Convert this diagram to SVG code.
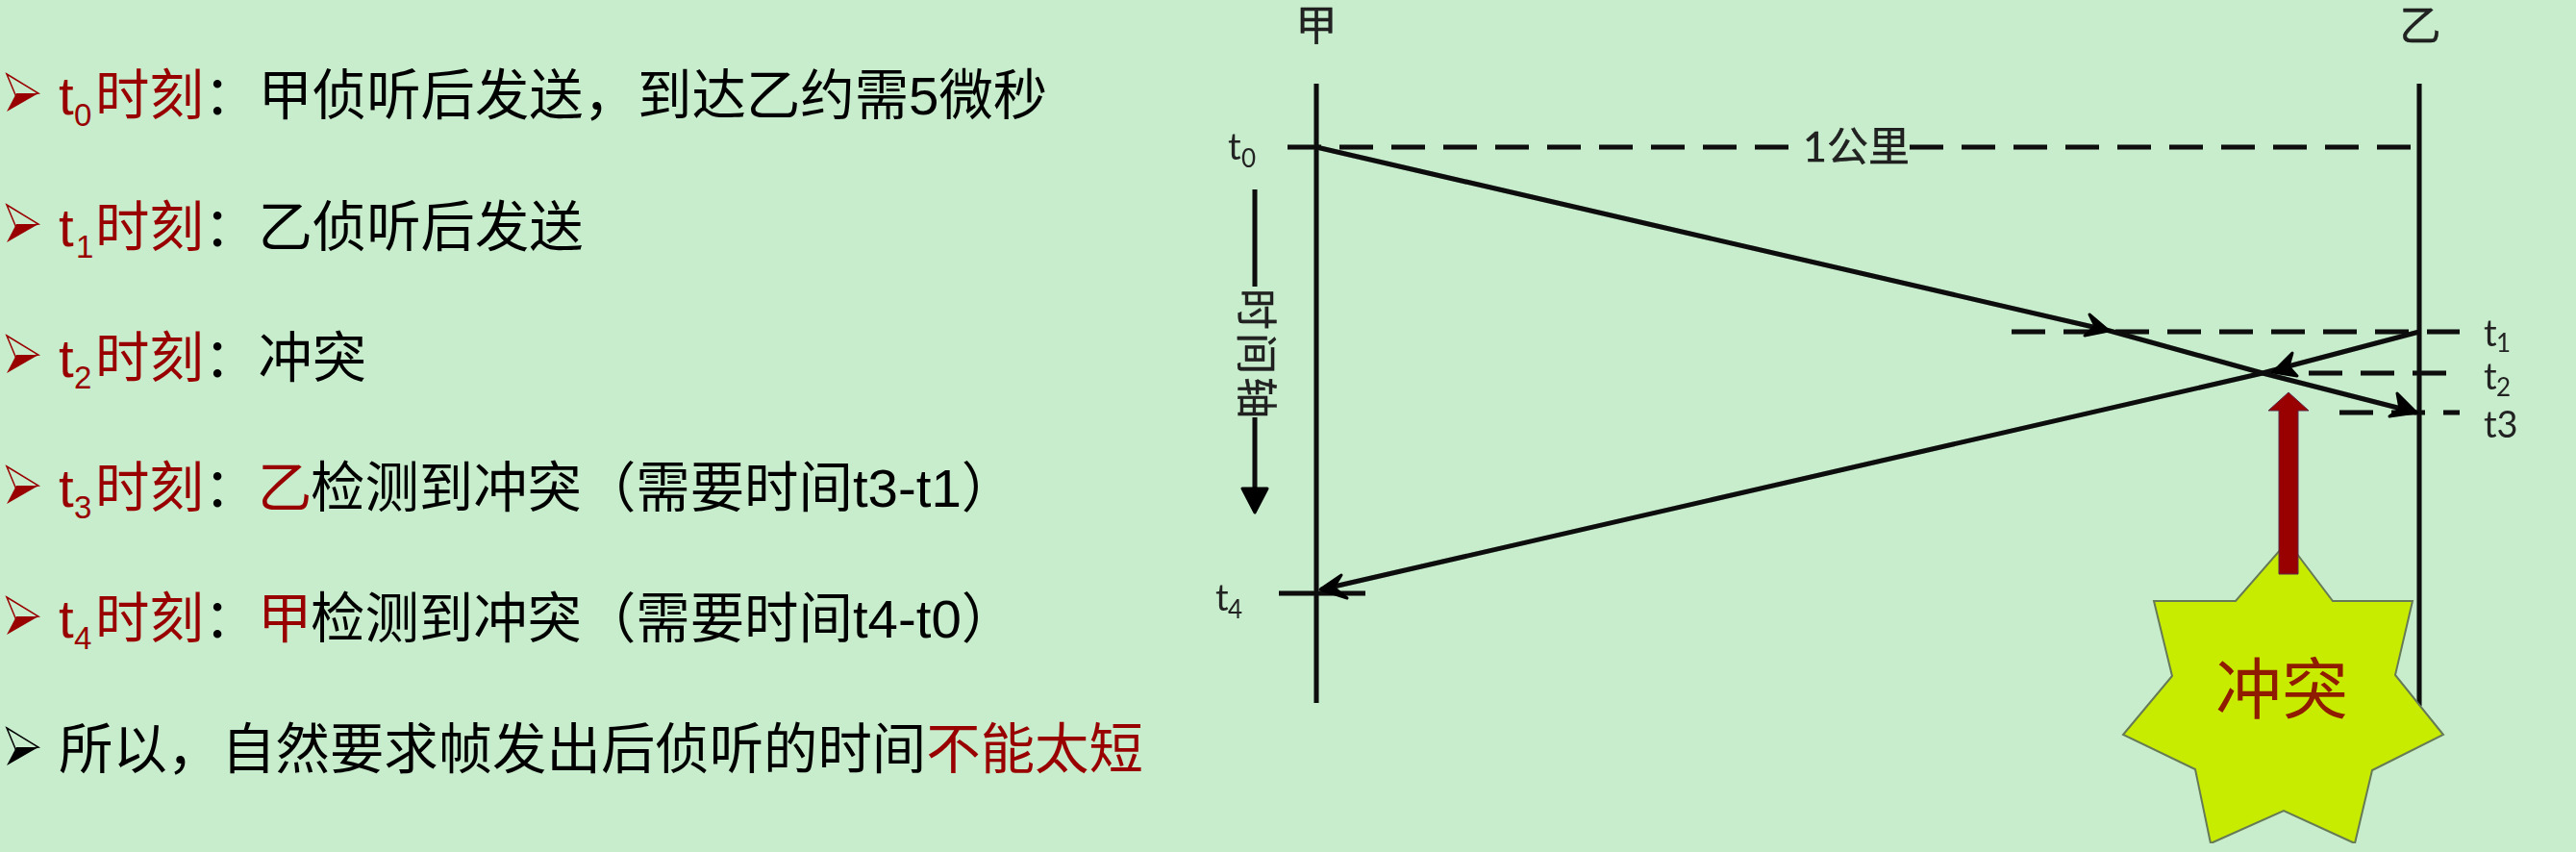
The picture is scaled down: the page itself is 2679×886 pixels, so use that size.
<svg xmlns="http://www.w3.org/2000/svg" width="2679" height="886" viewBox="0 0 2679 886">
<style>
.t{font-family:"Liberation Sans","Noto Sans CJK SC",sans-serif;font-size:56.4px;fill:#000}
.r{fill:#990000}
.s{font-size:33px}
.l{font-family:"Lato","Noto Sans CJK SC",sans-serif;font-size:38px;fill:#222}
.ls{font-size:26px}
.c{font-size:43px;stroke:#111;stroke-width:.4}
.ln{fill:none;stroke:#0a0a0a;stroke-width:5}
.da{stroke-dasharray:35 19}
.ah{fill:#000;stroke:#000;stroke-width:3;stroke-linejoin:round}
.bu{fill:#c7edcc;stroke-width:1.5}
</style>
<defs>
<filter id="soft" x="0" y="0" width="1" height="1"><feGaussianBlur stdDeviation="0.6"/></filter>
<g id="bullet">
<path d="M7 77L40 97L17 101Z" class="bu" stroke="currentColor"/>
<path d="M17 97L40 97L7 116Z" fill="currentColor"/>
</g>
</defs>
<rect width="2679" height="886" fill="#c7edcc"/>

<g id="list">
<g id="item-t0">
<use href="#bullet" color="#990000"/>
<text class="t" y="119"><tspan class="r" x="61">t</tspan><tspan class="r s" x="77" dy="12">0</tspan><tspan class="r" x="99" dy="-12">时刻</tspan><tspan x="212">：甲侦听后发送，到达乙约需5微秒</tspan></text>
</g>
<g id="item-t1">
<use href="#bullet" y="136" color="#990000"/>
<text class="t" y="256"><tspan class="r" x="61">t</tspan><tspan class="r s" x="79" dy="12">1</tspan><tspan class="r" x="99" dy="-12">时刻</tspan><tspan x="212">：乙侦听后发送</tspan></text>
</g>
<g id="item-t2">
<use href="#bullet" y="272" color="#990000"/>
<text class="t" y="392"><tspan class="r" x="61">t</tspan><tspan class="r s" x="77" dy="12">2</tspan><tspan class="r" x="99" dy="-12">时刻</tspan><tspan x="212">：冲突</tspan></text>
</g>
<g id="item-t3">
<use href="#bullet" y="408" color="#990000"/>
<text class="t" y="527"><tspan class="r" x="61">t</tspan><tspan class="r s" x="77" dy="12">3</tspan><tspan class="r" x="99" dy="-12">时刻</tspan><tspan x="212">：</tspan><tspan class="r" x="268">乙</tspan><tspan x="323">检测到冲突（需要时间t3-t1）</tspan></text>
</g>
<g id="item-t4">
<use href="#bullet" y="544" color="#990000"/>
<text class="t" y="663"><tspan class="r" x="61">t</tspan><tspan class="r s" x="77" dy="12">4</tspan><tspan class="r" x="99" dy="-12">时刻</tspan><tspan x="212">：</tspan><tspan class="r" x="268">甲</tspan><tspan x="323">检测到冲突（需要时间t4-t0）</tspan></text>
</g>
<g id="item-conclusion">
<use href="#bullet" y="680" color="#000"/>
<text class="t" y="799"><tspan x="61">所以，自然要求帧发出后侦听的时间</tspan><tspan class="r">不能太短</tspan></text>
</g>
</g>

<g id="figure" filter="url(#soft)">
<g id="node-jia">
<line class="ln" x1="1369" y1="87" x2="1369" y2="731"/>
<text class="l c" x="1369" y="42" text-anchor="middle">甲</text>
</g>
<g id="node-yi">
<line class="ln" x1="2516" y1="87" x2="2516" y2="734"/>
<text class="l c" x="2517" y="42" text-anchor="middle">乙</text>
</g>
<g id="connectors">
<line class="ln da" x1="1339" y1="153" x2="1860" y2="153"/>
<line class="ln da" x1="1986" y1="153" x2="2516" y2="153"/>
<line class="ln da" x1="2092" y1="345" x2="2558" y2="345"/>
<line class="ln da" x1="2401" y1="388" x2="2544" y2="388"/>
<line class="ln da" x1="2433" y1="429" x2="2558" y2="429"/>
<line class="ln" x1="1330" y1="617" x2="1420" y2="617"/>
<polyline class="ln" points="1369,153 2194,344 2353,388 2513,429"/>
<polyline class="ln" points="2516,345 2353,388 1374,613"/>
<polygon class="ah" points="2193,344 2173,327 2179,339 2168,349"/>
<polygon class="ah" points="2364,387 2384,367 2380,381 2389,391"/>
<polygon class="ah" points="2513,429 2493,409 2496,425 2485,433"/>
<polygon class="ah" points="1373,613 1395,598 1387,611 1401,622"/>
<line class="ln" x1="1305" y1="197" x2="1305" y2="298"/>
<line class="ln" x1="1305" y1="434" x2="1305" y2="510"/>
<polygon class="ah" points="1292,508 1318,508 1305,533"/>
</g>
<g id="labels">
<text class="l c" transform="translate(1291,369) rotate(90)" text-anchor="middle" letter-spacing="3">时间轴</text>
<text class="l c" x="1875" y="168">1公里</text>
<text class="l" x="1277" y="166">t<tspan class="ls" x="1291" dy="8">0</tspan></text>
<text class="l" x="1264" y="635">t<tspan class="ls" x="1277" dy="8">4</tspan></text>
<text class="l" x="2583" y="360">t<tspan class="ls" x="2596" dy="6">1</tspan></text>
<text class="l" x="2583" y="405">t<tspan class="ls" x="2596" dy="7">2</tspan></text>
<text class="l" x="2583" y="455">t3</text>
</g>
<g id="node-collision">
<polygon points="2379,563 2426,625 2509,625 2491,702 2541,764 2467,801 2449,877 2375,843 2299,877 2283,800 2208,764 2259,703 2240,625 2325,625" fill="#c8ec00" stroke="#667a55" stroke-width="2"/>
<text x="2373" y="742" text-anchor="middle" style="font-family:'Noto Sans CJK SC',sans-serif;font-size:69px;fill:#8f1a00">冲突</text>
<polygon points="2380,408 2401,427 2390,427 2390,597 2370,597 2370,427 2359,427" fill="#990000" stroke="#5a2a4a" stroke-width="1"/>
</g>
</g>
</svg>
